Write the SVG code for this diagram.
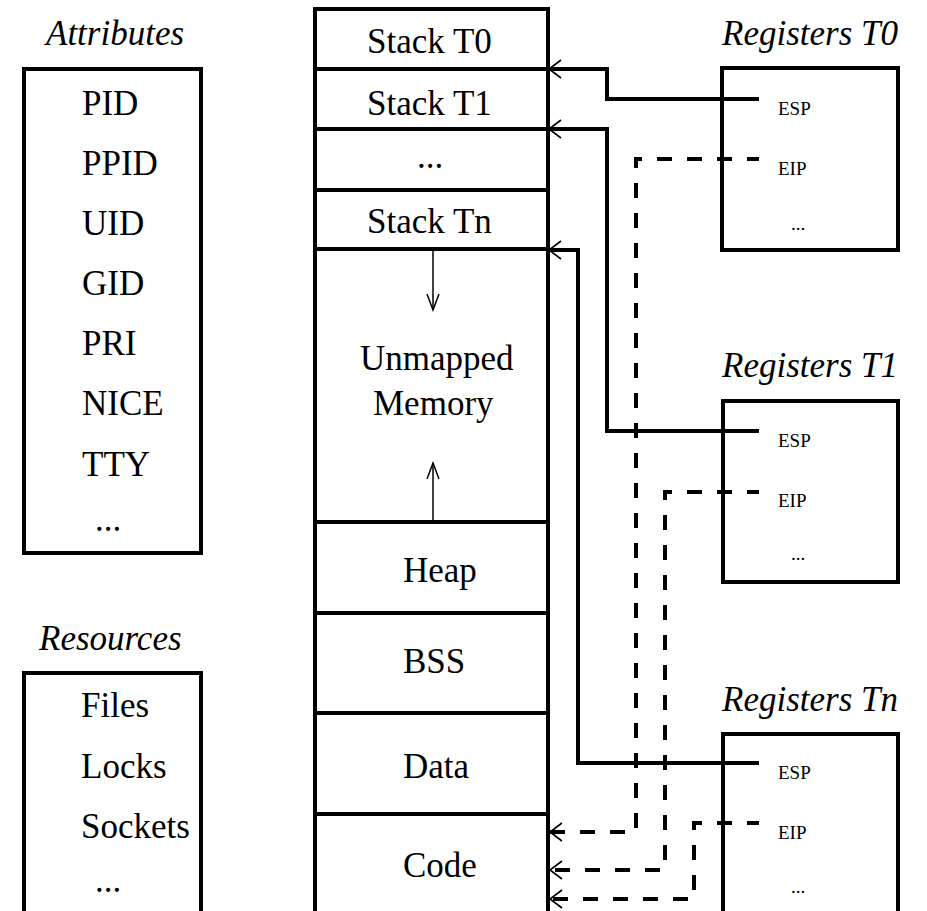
<svg xmlns="http://www.w3.org/2000/svg" width="927" height="911" viewBox="0 0 927 911">
  <style>
    .box { fill: none; stroke: #000; stroke-width: 4; }
    .div { stroke: #000; stroke-width: 4; }
    text { font-family: 'Liberation Serif', 'Times New Roman', Times, 'DejaVu Serif', serif; fill: #000; }
    .t { font-size: 35px; }
    .ti { font-size: 35px; font-style: italic; }
    .s { font-size: 19px; }
    .solid { fill: none; stroke: #000; stroke-width: 4; }
    .dash { fill: none; stroke: #000; stroke-width: 4; stroke-dasharray: 15 15; stroke-dashoffset: 3; }
    .thin { fill: none; stroke: #000; stroke-width: 1.5; }
  </style>
  <defs>
    <marker id="open" viewBox="-14 -11 16 22" refX="0" refY="0" markerWidth="16" markerHeight="22" markerUnits="userSpaceOnUse" orient="auto">
      <path d="M-12,-9 L0,0 L-12,9" fill="none" stroke="#000" stroke-width="1.6" stroke-dasharray="none"/>
    </marker>
    <marker id="small" viewBox="-18 -8 20 16" refX="0" refY="0" markerWidth="20" markerHeight="16" markerUnits="userSpaceOnUse" orient="auto">
      <path d="M-16,-6 L0,0 L-16,6" fill="none" stroke="#000" stroke-width="1.5"/>
    </marker>
  </defs>

  <rect width="927" height="911" fill="#fff"/>

  <g id="attributes">
    <text class="ti" x="46" y="45">Attributes</text>
    <rect class="box" x="24" y="69" width="177" height="484"/>
    <text class="t" x="82" y="115">PID</text>
    <text class="t" x="82" y="175">PPID</text>
    <text class="t" x="82" y="235">UID</text>
    <text class="t" x="82" y="295">GID</text>
    <text class="t" x="82" y="355">PRI</text>
    <text class="t" x="82" y="415">NICE</text>
    <text class="t" x="82" y="476">TTY</text>
    <text class="t" x="95" y="531">...</text>
  </g>

  <g id="resources">
    <text class="ti" x="39" y="650">Resources</text>
    <rect class="box" x="24" y="673" width="177" height="260"/>
    <text class="t" x="81" y="717">Files</text>
    <text class="t" x="81" y="778">Locks</text>
    <text class="t" x="81" y="838">Sockets</text>
    <text class="t" x="95" y="892">...</text>
  </g>

  <g id="memory">
    <rect class="box" x="315" y="9" width="233" height="930"/>
    <line class="div" x1="315" y1="69" x2="548" y2="69"/>
    <line class="div" x1="315" y1="129" x2="548" y2="129"/>
    <line class="div" x1="315" y1="190" x2="548" y2="190"/>
    <line class="div" x1="315" y1="249" x2="548" y2="249"/>
    <line class="div" x1="315" y1="522" x2="548" y2="522"/>
    <line class="div" x1="315" y1="613" x2="548" y2="613"/>
    <line class="div" x1="315" y1="713" x2="548" y2="713"/>
    <line class="div" x1="315" y1="814" x2="548" y2="814"/>
    <text class="t" x="367" y="53">Stack T0</text>
    <text class="t" x="367" y="115">Stack T1</text>
    <text class="t" x="417" y="168">...</text>
    <text class="t" x="367" y="233">Stack Tn</text>
    <text class="t" x="360" y="370">Unmapped</text>
    <text class="t" x="373" y="415">Memory</text>
    <text class="t" x="403" y="582">Heap</text>
    <text class="t" x="403" y="673">BSS</text>
    <text class="t" x="403" y="778">Data</text>
    <text class="t" x="403" y="877">Code</text>
    <path class="thin" d="M433,251 V310" marker-end="url(#small)"/>
    <path class="thin" d="M433,520 V463" marker-end="url(#small)"/>
  </g>

  <g id="registers-t0">
    <text class="ti" x="722" y="45">Registers T0</text>
    <rect class="box" x="722" y="68" width="176" height="182"/>
    <text class="s" x="778" y="115">ESP</text>
    <text class="s" x="778" y="175">EIP</text>
    <text class="s" x="791" y="230">...</text>
  </g>

  <g id="registers-t1">
    <text class="ti" x="722" y="377">Registers T1</text>
    <rect class="box" x="723" y="401" width="175" height="181"/>
    <text class="s" x="778" y="447">ESP</text>
    <text class="s" x="778" y="507">EIP</text>
    <text class="s" x="791" y="560">...</text>
  </g>

  <g id="registers-tn">
    <text class="ti" x="722" y="711">Registers Tn</text>
    <rect class="box" x="723" y="734" width="175" height="200"/>
    <text class="s" x="778" y="779">ESP</text>
    <text class="s" x="778" y="839">EIP</text>
    <text class="s" x="791" y="893">...</text>
  </g>

  <g id="connectors">
    <path class="solid" d="M759,99 H607 V69 H549" marker-end="url(#open)"/>
    <path class="solid" d="M759,431 H607 V129 H549" marker-end="url(#open)"/>
    <path class="solid" d="M759,763 H578 V250 H549" marker-end="url(#open)"/>
    <path class="dash" d="M759,159 H636 V832 H550" marker-end="url(#open)"/>
    <path class="dash" d="M759,492 H665 V870 H550" marker-end="url(#open)"/>
    <path class="dash" d="M759,823 H694 V899 H550" marker-end="url(#open)"/>
  </g>
</svg>
